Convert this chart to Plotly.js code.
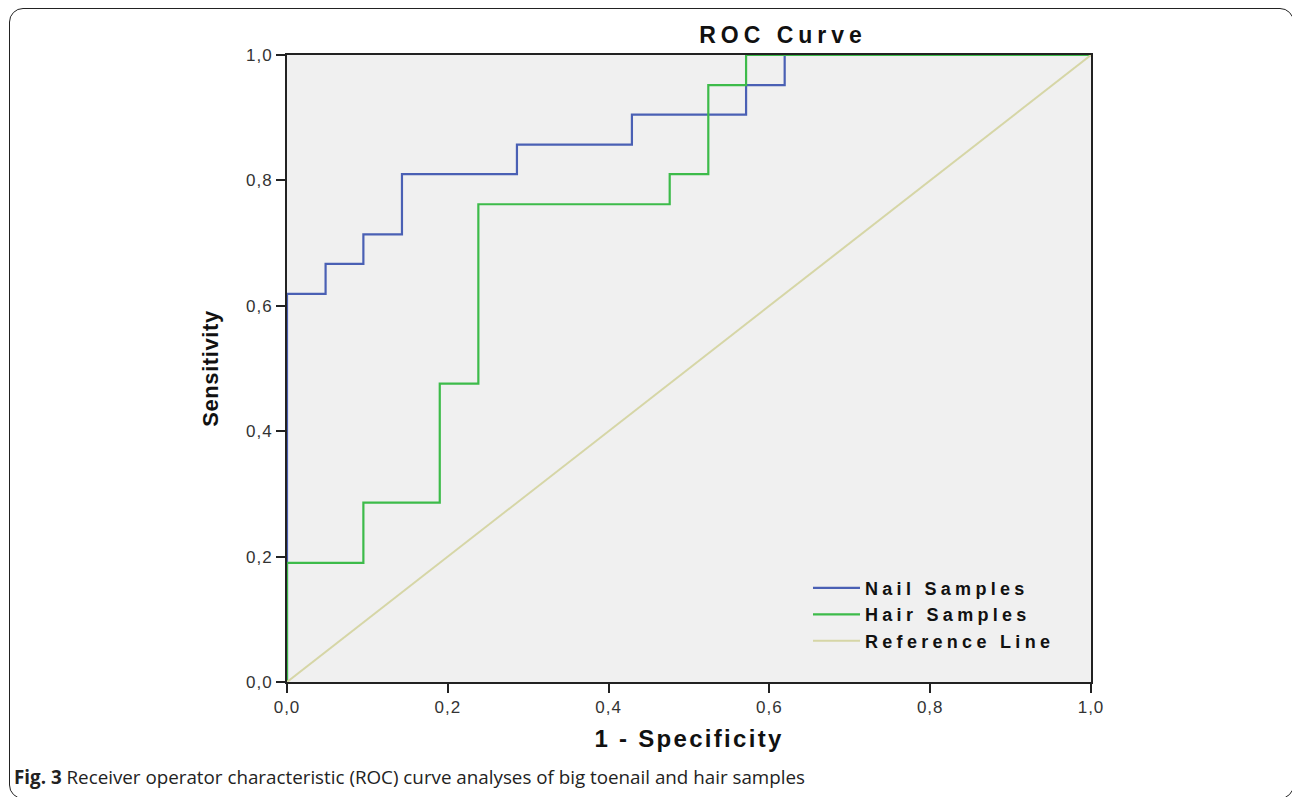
<!DOCTYPE html>
<html>
<head>
<meta charset="utf-8">
<script src="https://cdn.plot.ly/plotly-3.0.1.min.js"></script>
<style>
  html, body { margin: 0; padding: 0; background: #ffffff; overflow: hidden; }
  #frame { position: absolute; left: 9px; top: 8px; width: 1285px; height: 791px;
           border: 1.5px solid #222; border-radius: 14px; box-sizing: border-box; }
  #chart { position: absolute; left: 0; top: 0; width: 1292px; height: 797px; }
  #chart .gtitle { letter-spacing: 5px; }
  #chart .xtitle { letter-spacing: 2.3px; }
  #chart .ytitle { letter-spacing: 0.6px; }
  #chart .legendtext { letter-spacing: 4.3px; }
  #chart .legend, #chart .legend .scrollbox, #chart .legend g { clip-path: none !important; }
  #chart .xtick text, #chart .ytick text { letter-spacing: 1px; }
</style>
</head>
<body>
<div id="frame"></div>
<div id="chart"></div>
<script>
// 1 - Specificity / Sensitivity corner points (21 positives, 21 negatives)
const nailX = [0, 0, 0.048, 0.095, 0.143, 0.286, 0.429, 0.571, 0.619, 1];
const nailY = [0, 0.619, 0.667, 0.714, 0.810, 0.857, 0.905, 0.952, 1, 1];
const hairX = [0, 0, 0.095, 0.190, 0.238, 0.476, 0.524, 0.571, 1];
const hairY = [0, 0.190, 0.286, 0.476, 0.762, 0.810, 0.952, 1, 1];
const refX = [0, 1];
const refY = [0, 1];
const tickVals = [0, 0.2, 0.4, 0.6, 0.8, 1.0];
const tickText = ['0,0', '0,2', '0,4', '0,6', '0,8', '1,0'];
const seriesNames = ['Nail Samples', 'Hair Samples', 'Reference Line'];

const sans = '"Liberation Sans", Arial, sans-serif';
const capFont = '"Open Sans", "Noto Sans", sans-serif';

const traces = [
  { x: nailX, y: nailY, name: seriesNames[0], mode: 'lines', line: { shape: 'hv', color: '#4a60b4', width: 2.2 } },
  { x: hairX, y: hairY, name: seriesNames[1], mode: 'lines', line: { shape: 'hv', color: '#3dbb4a', width: 2.2 } },
  { x: refX, y: refY, name: seriesNames[2], mode: 'lines', line: { color: '#d6d6a6', width: 2 } }
];

const layout = {
  width: 1292, height: 797,
  paper_bgcolor: 'rgba(0,0,0,0)',
  plot_bgcolor: '#f0f0f0',
  margin: { l: 287, r: 201, t: 55, b: 115, pad: 0 },
  separators: ', ',
  showlegend: true,
  title: {
    text: '<b>ROC Curve</b>',
    font: { family: sans, size: 23, color: '#111' },
    xref: 'paper', x: 0.617, xanchor: 'center',
    yref: 'container', y: 1 - 35 / 797, yanchor: 'middle'
  },
  xaxis: {
    range: [0, 1], tickvals: tickVals, ticktext: tickText,
    ticks: 'outside', ticklen: 9, tickwidth: 2, tickcolor: '#222',
    showline: true, linecolor: '#222', linewidth: 2, mirror: true,
    showgrid: false, zeroline: false, automargin: false,
    tickfont: { family: sans, size: 17, color: '#333' },
    title: { text: '<b>1 - Specificity</b>', standoff: 14, font: { family: sans, size: 24, color: '#111' } }
  },
  yaxis: {
    range: [0, 1], tickvals: tickVals, ticktext: tickText,
    ticks: 'outside', ticklen: 9, tickwidth: 2, tickcolor: '#222',
    showline: true, linecolor: '#222', linewidth: 2, mirror: true,
    showgrid: false, zeroline: false, automargin: false,
    tickfont: { family: sans, size: 17, color: '#333' },
    title: { text: '<b>Sensitivity</b>', standoff: 24, font: { family: sans, size: 22, color: '#111' } }
  },
  legend: {
    x: 0.648, y: 0.179, xanchor: 'left', yanchor: 'top',
    bgcolor: 'rgba(0,0,0,0)', borderwidth: 0,
    font: { family: sans, size: 18, color: '#111', weight: 'bold' },
    itemwidth: 47, tracegroupgap: 0
  },
  annotations: [{
    xref: 'paper', yref: 'paper',
    x: (12 - 287) / 804, y: (682 - 777) / 627,
    xanchor: 'left', yanchor: 'middle', showarrow: false, align: 'left',
    text: '<b>Fig. 3</b> Receiver operator characteristic (ROC) curve analyses of big toenail and hair samples',
    font: { family: capFont, size: 18.8, color: '#222' }
  }]
};

Plotly.newPlot('chart', traces, layout, { displayModeBar: false, staticPlot: true });
</script>
</body>
</html>
